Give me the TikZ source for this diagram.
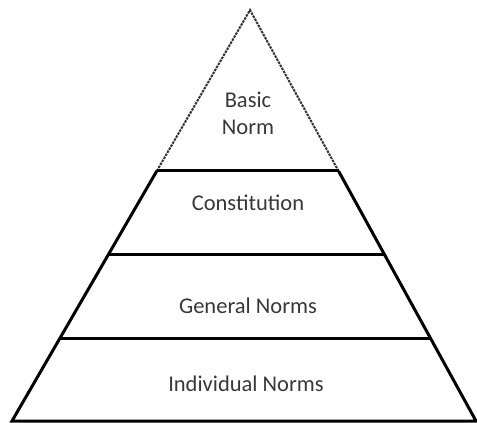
\documentclass[tikz,border=0pt]{standalone}
\usepackage{fontspec}
\setmainfont{Carlito}
\usetikzlibrary{calc}

\begin{document}
\begin{tikzpicture}[x=1pt,y=-1pt,
    layer line/.style={line width=3pt, black},
    top edge/.style={line width=2pt, black!80, dash pattern=on 2.5pt off 1pt},
    level label/.style={font=\fontsize{22.5}{27}\selectfont, text=black!78, align=center}
]
\useasboundingbox (0,0) rectangle (477,423);

% Corners
\coordinate (apex) at (250,10);
\coordinate (base left) at (12,421);
\coordinate (base right) at (476,421);

% Layer ends on the sides
\coordinate (const left) at ($(apex)!0.3917!(base left)$);
\coordinate (const right) at ($(apex)!0.3917!(base right)$);
\coordinate (gen left) at ($(apex)!0.5937!(base left)$);
\coordinate (gen right) at ($(apex)!0.5937!(base right)$);
\coordinate (ind left) at ($(apex)!0.7981!(base left)$);
\coordinate (ind right) at ($(apex)!0.7981!(base right)$);

% Top of pyramid
\draw[top edge] (const left) -- (apex) -- (const right);

% Lower part
\draw[layer line, line join=miter] (const left) -- (base left) -- (base right) -- (const right);
\draw[layer line] (const left) -- (const right);
\draw[layer line] (gen left) -- (gen right);
\draw[layer line] (ind left) -- (ind right);

% Labels
\node[level label] (basic) at (248,113) {Basic\\Norm};
\node[level label] (constitution) at (248,203) {Constitution};
\node[level label] (general) at (248,306) {General Norms};
\node[level label] (individual) at (246,384) {Individual Norms};

\end{tikzpicture}
\end{document}
